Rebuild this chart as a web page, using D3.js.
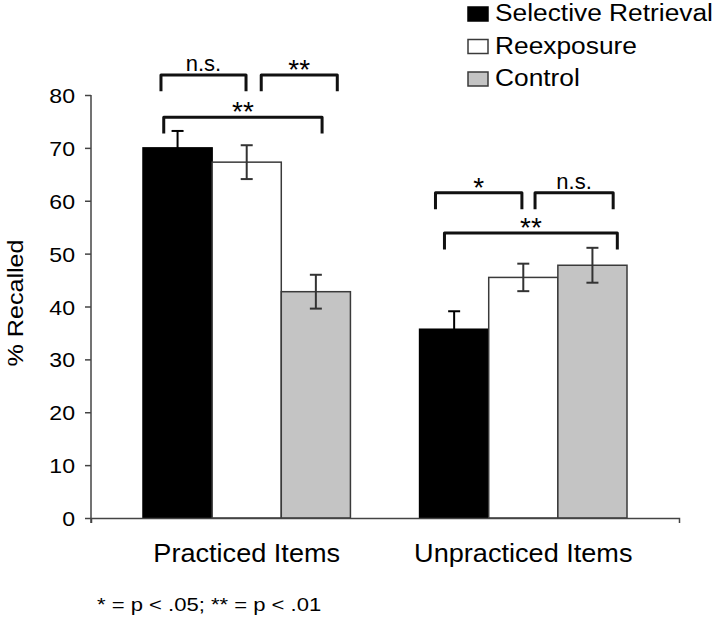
<!DOCTYPE html>
<html>
<head>
<meta charset="utf-8">
<script src="https://cdnjs.cloudflare.com/ajax/libs/d3/7.8.5/d3.min.js"></script>
<style>
  html, body { margin: 0; padding: 0; background: #fff; }
  svg { display: block; }
  text { font-family: Arial, "Liberation Sans", sans-serif; fill: #000; }
</style>
</head>
<body>
<svg id="chart" width="720" height="620"></svg>
<script>
// ---------- data ----------
const categories = ["Practiced Items", "Unpracticed Items"];
const seriesNames = ["Selective Retrieval", "Reexposure", "Control"];
const selectiveRetrieval = [70.0, 35.7];
const reexposure = [67.3, 45.5];
const control = [42.8, 47.8];
const errSelective = [3.2, 3.4];
const errReexposure = [3.2, 2.6];
const errControl = [3.2, 3.3];
const yTicks = [0, 10, 20, 30, 40, 50, 60, 70, 80];
const seriesFill = ["#000000", "#ffffff", "#c4c4c4"];
const errColor = ["#000000", "#333333", "#333333"];
// significance brackets: group, from/to in bar units within group (0..3), level (value), label
const brackets = [
  { group: 0, from: 0.26, to: 1.49, level: 83.8, label: "n.s." },
  { group: 0, from: 1.71, to: 2.81, level: 83.8, label: "**" },
  { group: 0, from: 0.30, to: 2.59, level: 75.8, label: "**" },
  { group: 1, from: 0.23, to: 1.48, level: 61.5, label: "*" },
  { group: 1, from: 1.67, to: 2.80, level: 61.5, label: "n.s." },
  { group: 1, from: 0.36, to: 2.86, level: 53.9, label: "**" }
];
const legDrop = 3.1; // bracket leg length in value units
const footnote = "* = p < .05; ** = p < .01";

const values = [selectiveRetrieval, reexposure, control];
const errors = [errSelective, errReexposure, errControl];

// ---------- layout ----------
const svg = d3.select("#chart");
const x0 = 91, x1 = 679, yBottom = 518, yTop = 95;

const x = d3.scaleBand().domain(categories).range([x0, x1])
  .paddingInner(0.25).paddingOuter(0.188);
const xs = d3.scaleBand().domain(seriesNames).range([0, x.bandwidth()]).padding(0);
const y = d3.scaleLinear().domain([0, 80]).range([yBottom, yTop]);
const unit = d3.scaleLinear().domain([0, 3]).range([0, x.bandwidth()]);

function stretch(sel, f) {
  sel.each(function () {
    const L = this.getComputedTextLength();
    this.setAttribute("textLength", L * f);
    this.setAttribute("lengthAdjust", "spacingAndGlyphs");
  });
}

// ---------- bars ----------
const rows = [];
categories.forEach((c, ci) => {
  seriesNames.forEach((s, si) => {
    rows.push({ cat: c, ser: s, si, v: values[si][ci], e: errors[si][ci] });
  });
});

svg.append("g").selectAll("rect").data(rows).join("rect")
  .attr("x", d => x(d.cat) + xs(d.ser))
  .attr("y", d => y(d.v))
  .attr("width", xs.bandwidth())
  .attr("height", d => y(0) - y(d.v))
  .attr("fill", d => seriesFill[d.si])
  .attr("stroke", d => d.si === 0 ? "#000" : "#3a3a3a")
  .attr("stroke-width", 1.5);

// ---------- error bars ----------
const eg = svg.append("g").attr("stroke-width", 2).attr("fill", "none");
rows.forEach(d => {
  const cx = x(d.cat) + xs(d.ser) + xs.bandwidth() / 2;
  const top = y(d.v + d.e), bot = y(d.v - d.e);
  const c = errColor[d.si];
  eg.append("line").attr("stroke", c).attr("x1", cx).attr("x2", cx).attr("y1", top).attr("y2", bot);
  eg.append("line").attr("stroke", c).attr("x1", cx - 6).attr("x2", cx + 6).attr("y1", top).attr("y2", top);
  eg.append("line").attr("stroke", c).attr("x1", cx - 6).attr("x2", cx + 6).attr("y1", bot).attr("y2", bot);
});

// ---------- axes ----------
const yAxis = svg.append("g").attr("transform", `translate(${x0},0)`)
  .call(d3.axisLeft(y).tickValues(yTicks).tickSize(6).tickSizeOuter(0).tickPadding(10));
yAxis.selectAll("path, line").attr("stroke", "#444").attr("stroke-width", 1.5);
yAxis.select(".domain").attr("d", `M0,${yTop}V${yBottom + 5}`);
yAxis.selectAll("text").attr("font-size", 21).attr("font-family", "Arial, 'Liberation Sans', sans-serif")
  .attr("fill", "#000").attr("dy", "0.36em");
stretch(yAxis.selectAll("text"), 1.1);

const xAxis = svg.append("g").attr("transform", `translate(0,${yBottom})`)
  .call(d3.axisBottom(x).tickSize(0).tickSizeOuter(5).tickPadding(25.5));
xAxis.select(".domain").attr("stroke", "#444").attr("stroke-width", 1.5);
xAxis.selectAll("text").attr("font-size", 25.7).attr("font-family", "Arial, 'Liberation Sans', sans-serif")
  .attr("fill", "#000");
stretch(xAxis.selectAll("text"), 1.055);

// y-axis title
const yt = svg.append("text")
  .attr("transform", "translate(23,303) rotate(-90)")
  .attr("text-anchor", "middle")
  .attr("font-size", 22)
  .text("% Recalled");
stretch(yt, 1.14);

// ---------- significance brackets ----------
const bg = svg.append("g");
brackets.forEach(b => {
  const gx = x(categories[b.group]);
  const xa = gx + unit(b.from), xb = gx + unit(b.to);
  const yl = y(b.level), yd = y(b.level - legDrop);
  bg.append("path")
    .attr("d", `M${xa},${yd}V${yl}H${xb}V${yd}`)
    .attr("fill", "none").attr("stroke", "#111").attr("stroke-width", 3)
    .attr("stroke-linejoin", "round").attr("stroke-linecap", "butt");
  const isStar = b.label.indexOf("*") === 0;
  bg.append("text")
    .attr("x", (xa + xb) / 2)
    .attr("y", isStar ? yl + 4 : yl - 4)
    .attr("text-anchor", "middle")
    .attr("font-size", isStar ? 28 : 22)
    .text(b.label);
});

// ---------- legend ----------
const lg = svg.append("g");
seriesNames.forEach((s, i) => {
  const top = 7 + i * 32.5;
  lg.append("rect").attr("x", 468).attr("y", top).attr("width", 20).attr("height", 14)
    .attr("fill", seriesFill[i]).attr("stroke", i === 0 ? "#000" : "#3a3a3a").attr("stroke-width", 1.5);
  const t = lg.append("text").attr("x", 495).attr("y", top + 14)
    .attr("font-size", 23.5).text(s);
  stretch(t, 1.12);
});

// ---------- footnote ----------
const fn = svg.append("text").attr("x", 97).attr("y", 611).attr("font-size", 19).text(footnote);
stretch(fn, 1.16);
</script>
</body>
</html>
